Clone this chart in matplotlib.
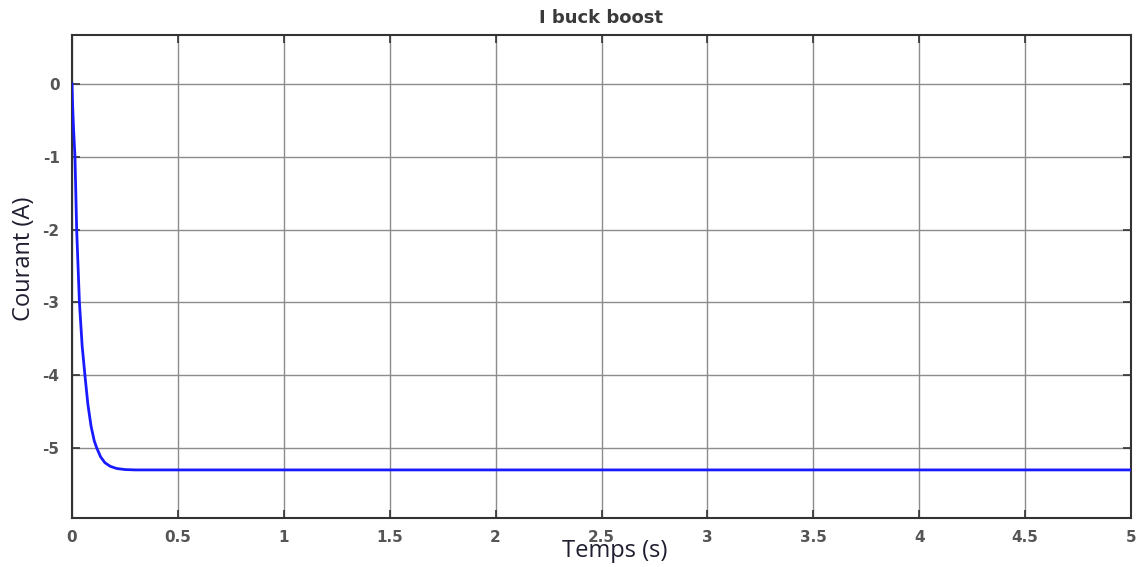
import matplotlib
matplotlib.use("Agg")
import matplotlib.pyplot as plt

# Data (time in s, current in A)
time_s = [0.0, 0.003, 0.007, 0.014, 0.022, 0.035, 0.048, 0.061, 0.075, 0.09,
          0.105, 0.117, 0.135, 0.155, 0.18, 0.21, 0.25, 0.3, 0.4, 0.5,
          1.0, 1.5, 2.0, 2.5, 3.0, 3.5, 4.0, 4.5, 5.0]
current_a = [0.0, -0.3, -0.6, -1.0, -2.0, -3.0, -3.6, -4.0, -4.4, -4.7,
             -4.9, -5.0, -5.12, -5.2, -5.25, -5.28, -5.295, -5.30, -5.30, -5.30,
             -5.30, -5.30, -5.30, -5.30, -5.30, -5.30, -5.30, -5.30, -5.30]

x_ticks = [0, 0.5, 1, 1.5, 2, 2.5, 3, 3.5, 4, 4.5, 5]
x_tick_labels = ["0", "0.5", "1", "1.5", "2", "2.5", "3", "3.5", "4", "4.5", "5"]
y_ticks = [0, -1, -2, -3, -4, -5]
y_tick_labels = ["0", "-1", "-2", "-3", "-4", "-5"]

title = "I buck boost"
x_label = "Temps (s)"
y_label = "Courant (A)"

fig = plt.figure(figsize=(11.39, 5.67), dpi=100)
ax = fig.add_axes([72 / 1139, 1 - 518 / 567, (1131 - 72) / 1139, (518 - 35) / 567])

ax.plot(time_s, current_a, color="#1a1aff", linewidth=2.0, zorder=3)

ax.set_xlim(0, 5)
ax.set_ylim(-5.96, 0.67)
ax.set_xticks(x_ticks)
ax.set_xticklabels(x_tick_labels)
ax.set_yticks(y_ticks)
ax.set_yticklabels(y_tick_labels)

ax.grid(True, color="#8c8c8c", linewidth=1.0)
ax.set_axisbelow(True)
ax.tick_params(direction="in", top=True, right=True, length=6, width=1.2,
               color="#333333", labelsize=11, labelcolor="#555555")
ax.tick_params(axis="x", pad=9)
ax.tick_params(axis="y", pad=9)
for lab in ax.get_xticklabels() + ax.get_yticklabels():
    lab.set_fontweight("bold")
    lab.set_family("DejaVu Sans")
for sp in ax.spines.values():
    sp.set_color("#333333")
    sp.set_linewidth(1.5)

fig.text(601 / 1139, 1 - 18 / 567, title, ha="center", va="center",
         fontsize=13, color="#3a3a3a", fontweight="bold", family="DejaVu Sans")
fig.text(615 / 1139, 1 - 551 / 567, x_label, ha="center", va="center",
         fontsize=17, color="#1e1e30", family="Open Sans")
fig.text(24 / 1139, 1 - 259 / 567, y_label, ha="center", va="center",
         rotation=90, fontsize=17, color="#1e1e30", family="Open Sans")

fig.savefig("out.png", dpi=100, facecolor="white")
